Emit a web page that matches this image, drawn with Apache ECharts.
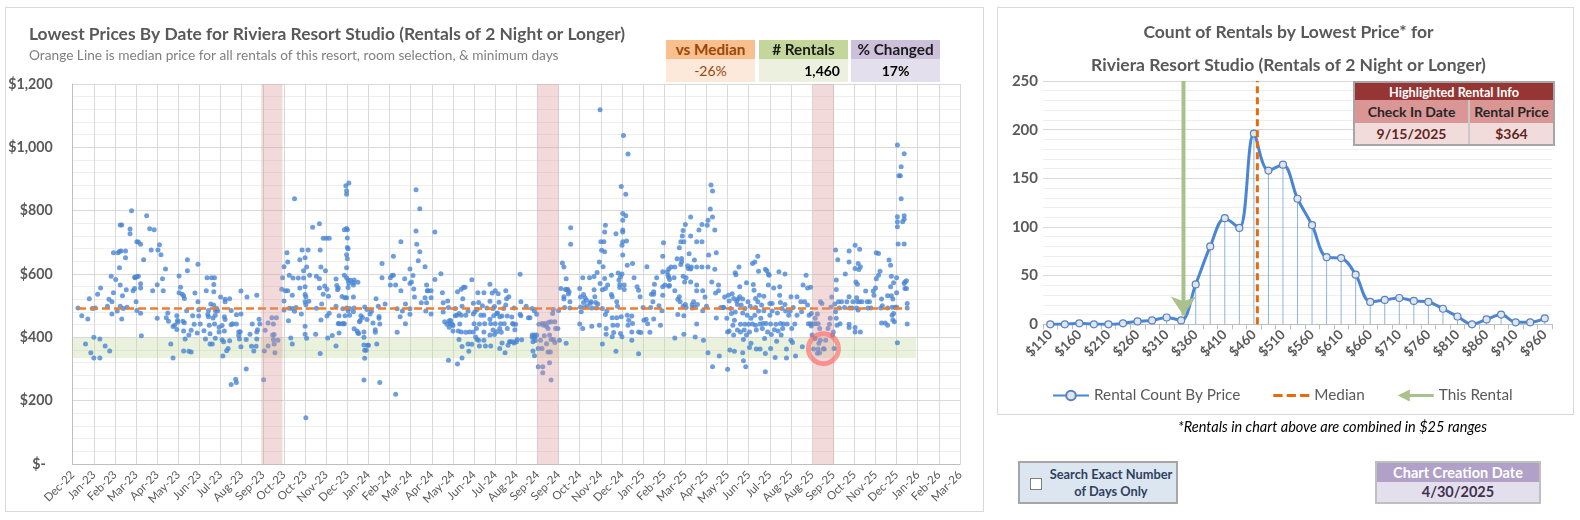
<!DOCTYPE html>
<html>
<head>
<meta charset="utf-8">
<script src="https://cdn.jsdelivr.net/npm/echarts@6/dist/echarts.min.js"></script>
<style>
  body { margin: 0; background: #fff; font-family: Lato, 'Open Sans', sans-serif; }
  .abs { position: absolute; box-sizing: border-box; }
  .panel { border: 1px solid #d9d9d9; }
  .info { text-align: center; font-weight: bold; }
  .info .h { height: 19px; line-height: 19px; font-size: 15.3px; }
  .info .v { height: 23px; line-height: 23px; font-size: 14px; }
  table.hl { border-collapse: collapse; font-weight: bold; text-align: center; }
  table.hl td { padding: 0; }
</style>
</head>
<body>
<div class="abs panel" style="left:5px;top:7px;width:979px;height:505px"></div>
<div class="abs panel" style="left:997px;top:7px;width:577px;height:408px"></div>
<div id="echarts_1" class="abs" style="left:0;top:0;width:985px;height:520px"></div>
<div id="echarts_2" class="abs" style="left:997px;top:0;width:583px;height:420px"></div>

<!-- 左上角三个指标框 -->
<div id="infoBoxes"></div>

<!-- 高亮租赁信息表 -->
<div class="abs" style="left:1353px;top:81px;width:202px;border:2px solid #a6a6a6">
  <table class="hl" style="width:100%">
    <tr><td colspan="2" style="background:#963634;color:#fff;height:17px;font-size:12.7px">Highlighted Rental Info</td></tr>
    <tr style="background:#da9694;color:#262626;font-size:14px;height:23px">
      <td style="width:113px;border-right:2px solid #c9c9c9">Check In Date</td><td>Rental Price</td></tr>
    <tr style="background:#f2dcdb;color:#632523;font-size:14px;height:21px">
      <td id="hlDate" style="border-right:2px solid #c9c9c9"></td><td id="hlPrice"></td></tr>
  </table>
</div>

<div class="abs" style="left:1178px;top:418px;font-size:14.5px;font-style:italic;color:#000">*Rentals in chart above are combined in $25 ranges</div>

<div class="abs" style="left:1018px;top:461px;width:160px;height:43px;background:#dce6f1;border:2px solid #a6a6a6">
  <div class="abs" style="left:10px;top:15px;width:12px;height:12px;background:#fff;border:1px solid #7f7f7f"></div>
  <div class="abs" style="left:26px;top:3px;width:130px;text-align:center;font-size:12.8px;font-weight:bold;color:#2f3f5f;line-height:17px">Search Exact Number<br>of Days Only</div>
</div>

<div class="abs" style="left:1375px;top:461px;width:166px;height:43px;border:2px solid #bfbfbf;text-align:center;font-weight:bold">
  <div style="background:#b1a0c7;color:#fff;height:19px;line-height:19px;font-size:14.5px">Chart Creation Date</div>
  <div id="createdOn" style="background:#e4dfec;color:#3f3151;height:20px;line-height:20px;font-size:14.5px"></div>
</div>

<script>
// ---------- 数据 ----------
// 每条租赁：[月, 日, 最低价格]
var rentals2023 = [
  [1,1,493],[1,6,468],[1,14,458],[1,16,522],[1,11,379],[1,18,351],[1,22,400],[1,22,335],[1,20,491],[1,24,493],[1,27,536],[1,30,395],[1,30,335],
  [1,31,556],[2,6,373],[2,9,498],[2,11,520],[2,12,357],[2,15,512],[2,15,474],[2,14,593],[2,17,667],[2,17,541],[2,20,583],[2,22,483],[2,23,667],[2,25,620],[2,25,671],[2,26,755],[2,28,755],[2,26,565],[2,26,498],[2,27,673],[2,28,458],
  [3,1,531],[3,2,491],[3,5,673],[3,5,651],[3,6,550],[3,7,495],[3,13,800],[3,11,742],[3,11,727],[3,15,547],[3,17,590],[3,18,588],[3,20,592],[3,22,593],[3,17,554],[3,19,512],[3,20,485],[3,20,702],[3,22,701],[3,25,694],[3,25,569],[3,25,556],[3,25,476],[3,26,405],[3,29,645],
  [4,2,784],[4,6,743],[4,12,740],[4,8,676],[4,10,547],[4,16,460],[4,16,566],[4,17,676],[4,19,692],[4,21,661],[4,23,585],[4,24,547],[4,27,616],[4,30,477],[4,28,462],
  [5,1,451],[5,4,379],[5,7,335],[5,7,434],[5,9,438],[5,12,425],[5,12,468],[5,13,453],[5,13,448],[5,15,594],[5,15,541],[5,17,558],[5,20,451],[5,19,536],[5,21,531],[5,22,523],[5,22,446],[5,23,395],[5,21,357],[5,21,420],[5,25,484],[5,26,610],[5,26,645],[5,28,407],[5,28,356],[5,31,354],[5,31,422],
  [6,2,468],[6,4,441],[6,5,540],[6,8,414],[6,9,631],[6,9,512],[6,10,487],[6,10,467],[6,12,442],[6,17,421],[6,19,395],[6,20,547],[6,21,588],[6,22,472],[6,23,485],[6,23,465],[6,24,438],[6,25,411],[6,25,379],[6,26,505],[6,27,588],[6,28,379],[6,29,461],[6,30,544],[6,30,567],[6,30,501],
  [7,1,588],[7,2,470],[7,2,485],[7,4,491],[7,5,483],[7,1,442],[7,2,397],[7,7,432],[7,7,417],[7,9,527],[7,11,437],[7,11,392],[7,13,386],[7,14,465],[7,15,456],[7,15,520],[7,15,512],[7,14,420],[7,12,341],[7,17,358],[7,19,365],[7,21,389],[7,21,522],[7,23,485],[7,23,440],[7,23,251],[7,25,443],[7,29,268],[7,30,257],[7,30,471],[7,30,442],
  [8,2,417],[8,2,406],[8,3,395],[8,4,418],[8,5,474],[8,5,546],[8,5,370],[8,12,300],[8,12,393],[8,13,527],[8,17,410],[8,19,372],[8,20,442],[8,22,357],[8,25,372],[8,26,533],[8,26,417],[8,27,424],[8,29,457],[8,30,442],[8,26,395],
  [9,5,357],[9,4,266],[9,6,422],[9,10,445],[9,10,373],[9,15,462],[9,21,462],[9,17,442],[9,16,407],[9,18,409],[9,17,393],[9,18,379],[9,19,351],[9,23,391],[9,28,552],[9,29,588],
  [10,1,623],[10,1,515],[10,1,486],[10,5,667],[10,6,638],[10,3,547],[10,6,547],[10,8,596],[10,8,492],[10,7,452],[10,10,398],[10,12,379],[10,12,533],[10,12,491],[10,13,587],[10,15,838],[10,15,482],[10,17,494],[10,20,587],[10,22,645],[10,22,556],[10,24,474],[10,25,676],[10,27,610],[10,27,587],[10,29,651],[10,29,560],[10,29,535],[10,30,528],[10,29,512],[10,30,503],[10,29,435],[10,29,410],[10,31,397],[10,31,622],[10,30,146],
  [11,2,676],[11,3,514],[11,4,596],[11,8,748],[11,12,410],[11,13,593],[11,13,492],[11,17,759],[11,18,676],[11,17,585],[11,17,556],[11,18,349],[11,19,622],[11,19,455],[11,20,505],[11,22,536],[11,22,713],[11,26,713],[11,30,713],[11,24,562],[11,25,610],[11,27,552],[11,27,467],[11,28,398],[11,29,530],[11,30,476],
  [12,4,406],[12,9,584],[12,9,498],[12,10,564],[12,11,550],[12,12,556],[12,13,414],[12,13,468],[12,13,443],[12,12,444],[12,9,373],[12,17,529],[12,17,443],[12,18,490],[12,19,443],[12,20,596],[12,20,443],[12,21,525],[12,22,879],[12,26,887],[12,23,863],[12,23,852],[12,20,740],[12,23,744],[12,24,740],[12,24,714],[12,24,684],[12,25,680],[12,23,661],[12,24,648],[12,23,620],[12,23,588],[12,25,580],[12,25,557],[12,26,571],[12,23,525],[12,23,493],[12,25,484],[12,27,470],[12,27,491],[12,21,468],[12,28,580]
];
var rentals2024 = [
  [1,1,565],[1,1,573],[1,2,581],[1,7,574],[1,1,527],[1,1,481],[1,2,493],[1,2,427],[1,6,420],[1,7,414],[1,8,412],[1,9,449],[1,10,453],[1,11,468],[1,13,463],[1,15,417],[1,15,400],[1,15,376],[1,16,359],[1,18,359],[1,16,334],[1,15,265],[1,16,496],[1,19,488],[1,19,456],[1,20,375],[1,21,375],[1,23,474],[1,25,482],[1,27,445],[1,30,424],[1,30,416],[1,31,522],
  [2,1,379],[2,3,498],[2,4,466],[2,4,460],[2,5,442],[2,5,257],[2,8,633],[2,8,588],[2,12,505],[2,19,565],[2,19,588],[2,21,595],[2,23,656],[2,23,596],[2,26,565],[2,26,220],[2,28,416],[2,28,490],
  [3,4,702],[3,4,547],[3,3,465],[3,6,483],[3,9,585],[3,10,505],[3,10,443],[3,16,616],[3,16,570],[3,16,490],[3,16,473],[3,18,575],[3,20,595],[3,21,553],[3,22,527],[3,24,866],[3,24,736],[3,25,694],[3,27,642],[3,29,806],[3,29,670],[3,31,509],
  [4,5,623],[4,5,525],[4,7,565],[4,9,547],[4,7,509],[4,6,483],[4,8,547],[4,13,547],[4,13,525],[4,13,474],[4,18,733],[4,18,583],[4,26,601],[4,28,541],[4,29,509],[4,29,480],
  [5,1,449],[5,5,515],[5,4,441],[5,7,452],[5,7,432],[5,8,444],[5,9,453],[5,11,441],[5,12,420],[5,12,437],[5,15,468],[5,15,491],[5,18,544],[5,17,470],[5,20,475],[5,20,393],[5,19,420],[5,18,316],[5,6,328],[5,6,494],[5,23,552],[5,26,558],[5,28,558],[5,25,522],[5,24,498],[5,23,470],[5,21,442],[5,23,417],[5,24,371],[5,24,335],[5,29,416],[5,29,470],
  [6,1,483],[6,1,379],[6,2,356],[6,3,417],[6,6,582],[6,6,378],[6,8,508],[6,8,417],[6,8,474],[6,9,443],[6,10,481],[6,11,401],[6,12,428],[6,13,393],[6,14,541],[6,13,488],[6,15,510],[6,15,391],[6,16,373],[6,16,442],[6,18,470],[6,20,500],[6,22,541],[6,22,470],[6,22,417],[6,23,443],[6,22,391],[6,24,373],[6,26,493],[6,30,568],[6,30,514],[6,30,457],[6,30,407],
  [7,1,443],[7,1,373],[7,3,540],[7,4,491],[7,4,423],[7,5,468],[7,6,497],[7,6,409],[7,7,547],[7,7,443],[7,9,475],[7,9,418],[7,11,538],[7,12,511],[7,10,477],[7,13,465],[7,13,428],[7,13,365],[7,14,443],[7,15,416],[7,16,382],[7,16,467],[7,18,491],[7,19,443],[7,20,351],[7,21,502],[7,21,547],[7,22,522],[7,23,467],[7,23,428],[7,24,375],[7,25,528],[7,26,386],[7,27,386],[7,29,464],[7,30,444],[7,30,386],[7,31,441],
  [8,1,493],[8,1,382],[8,2,424],[8,3,441],[8,4,386],[8,5,393],[8,9,599],[8,10,512],[8,9,473],[8,10,468],[8,11,392],[8,17,498],[8,20,462],[8,22,462],[8,25,491],[8,25,407],[8,25,400],[8,26,386],[8,27,400],[8,28,407],[8,29,390],[8,29,402],[8,26,357],[8,28,342],[8,28,483],[8,31,473],[8,31,407],
  [9,2,307],[9,8,307],[9,8,288],[9,19,265],[9,17,320],[9,3,441],[9,7,444],[9,9,438],[9,11,444],[9,13,435],[9,16,448],[9,19,449],[9,21,475],[9,22,488],[9,5,391],[9,2,365],[9,7,365],[9,10,405],[9,13,380],[9,15,354],[9,18,354],[9,17,407],[9,19,393],[9,22,393],[9,24,384],[9,15,428],[9,24,449],[9,25,428],[9,28,428],[9,29,485],[9,30,391],
  [10,2,554],[10,4,635],[10,6,622],[10,6,528],[10,6,521],[10,7,494],[10,8,551],[10,9,585],[10,10,551],[10,11,551],[10,12,537],[10,13,544],[10,14,512],[10,14,493],[10,15,694],[10,15,746],[10,9,381],[10,27,554],[10,28,527],[10,28,496],[10,29,481],[10,27,442],[10,31,588],[10,31,428],
  [11,1,535],[11,1,510],[11,2,494],[11,3,525],[11,5,517],[11,6,500],[11,9,588],[11,10,508],[11,11,512],[11,12,493],[11,12,435],[11,15,592],[11,15,550],[11,16,528],[11,17,510],[11,18,493],[11,19,605],[11,20,505],[11,22,438],[11,22,638],[11,23,570],[11,23,1119],[11,24,702],[11,25,675],[11,26,550],[11,26,491],[11,26,379],[11,27,623],[11,29,733],[11,28,702],[11,29,670],[11,29,586],[11,30,754],[11,30,554],[11,30,472],
  [12,1,428],[12,1,410],[12,2,483],[12,3,565],[12,8,596],[12,8,535],[12,9,528],[12,9,462],[12,9,402],[12,10,438],[12,11,415],[12,14,727],[12,14,356],[12,15,512],[12,15,462],[12,16,438],[12,16,498],[12,17,603],[12,18,581],[12,19,557],[12,19,567],[12,20,591],[12,20,412],[12,21,465],[12,22,402],[12,21,876],[12,23,791],[12,23,770],[12,23,733],[12,23,739],[12,22,691],[12,23,702],[12,24,1037],[12,27,852],[12,27,784],[12,28,704],[12,29,628],[12,30,979],[12,23,660],[12,22,600],[12,29,470],[12,30,438],[12,25,565],[12,25,551],[12,31,454]
];
var rentals2025 = [
  [1,5,633],[1,7,588],[1,4,467],[1,5,444],[1,4,417],[1,4,391],[1,11,560],[1,13,549],[1,15,528],[1,13,417],[1,16,415],[1,13,348],[1,19,494],[1,20,454],[1,23,457],[1,25,443],[1,24,623],[1,28,416],[1,29,494],[1,30,536],
  [2,1,512],[2,2,536],[2,3,568],[2,2,544],[2,2,458],[2,6,588],[2,9,500],[2,11,438],[2,13,484],[2,14,656],[2,14,607],[2,14,560],[2,14,533],[2,15,699],[2,17,565],[2,20,607],[2,21,596],[2,22,616],[2,22,590],[2,23,583],[2,23,564],[2,25,622],[2,22,561],
  [3,2,622],[3,1,588],[3,2,547],[3,2,398],[3,5,648],[3,6,520],[3,6,472],[3,8,683],[3,8,528],[3,9,512],[3,10,702],[3,10,630],[3,11,639],[3,11,649],[3,12,720],[3,13,593],[3,13,737],[3,13,498],[3,14,702],[3,14,468],[3,14,410],[3,15,575],[3,16,504],[3,16,756],[3,17,494],[3,17,588],[3,19,626],[3,20,617],[3,21,664],[3,23,616],[3,23,575],[3,23,780],[3,23,720],[3,24,622],[3,25,493],[3,25,504],[3,27,512],[3,28,644],[3,28,495],[3,29,401],[3,31,622],[3,31,702],[3,31,565],[3,31,547],[3,31,442],
  [4,1,504],[4,3,739],[4,7,756],[4,7,702],[4,7,622],[4,8,547],[4,8,484],[4,9,391],[4,11,527],[4,13,498],[4,14,754],[4,15,770],[4,16,660],[4,15,622],[4,15,351],[4,18,805],[4,19,881],[4,21,862],[4,21,780],[4,20,575],[4,21,307],[4,24,739],[4,24,615],[4,25,540],[4,26,667],[4,26,461],[4,29,547],[4,29,565],[4,30,341],
  [5,2,494],[5,5,494],[5,6,494],[5,7,527],[5,10,460],[5,11,417],[5,12,533],[5,13,515],[5,14,360],[5,11,299],[5,13,420],[5,15,491],[5,16,475],[5,17,538],[5,18,438],[5,19,523],[5,19,407],[5,20,454],[5,20,356],[5,21,480],[5,21,604],[5,22,598],[5,23,515],[5,24,423],[5,24,504],[5,25,521],[5,26,622],[5,27,528],[5,27,560],[5,28,417],[5,28,441],[5,29,502],[5,31,477],[5,31,521],[5,31,351],
  [6,1,326],[6,1,393],[6,2,423],[6,3,441],[6,3,491],[6,4,307],[6,5,572],[6,5,407],[6,6,470],[6,7,512],[6,8,441],[6,9,417],[6,9,368],[6,10,498],[6,11,460],[6,11,381],[6,13,442],[6,13,633],[6,14,567],[6,15,549],[6,16,638],[6,16,470],[6,17,523],[6,17,438],[6,17,494],[6,18,423],[6,18,363],[6,20,512],[6,20,656],[6,21,609],[6,21,483],[6,22,533],[6,23,363],[6,23,442],[6,24,460],[6,25,502],[6,26,428],[6,27,444],[6,28,484],[6,28,530],[6,29,396],[6,30,349],[6,30,291],[6,30,615],
  [7,1,444],[7,2,610],[7,3,417],[7,4,565],[7,4,600],[7,5,596],[7,6,507],[7,6,470],[7,7,442],[7,7,365],[7,8,409],[7,9,483],[7,9,507],[7,11,556],[7,12,424],[7,13,336],[7,14,441],[7,15,388],[7,16,477],[7,17,420],[7,18,607],[7,19,560],[7,19,533],[7,20,510],[7,20,444],[7,21,407],[7,22,491],[7,23,428],[7,24,442],[7,26,600],[7,26,504],[7,27,483],[7,28,363],[7,28,335],[7,29,442],[7,31,470],
  [8,2,483],[8,3,391],[8,3,528],[8,4,428],[8,5,384],[8,6,494],[8,8,442],[8,9,341],[8,11,528],[8,11,470],[8,16,512],[8,17,481],[8,19,565],[8,18,370],[8,21,512],[8,23,596],[8,25,556],[8,25,502],[8,26,443],[8,27,470],[8,29,443],[8,29,558],[8,30,475],[8,30,436],[8,31,407],
  [9,2,443],[9,4,460],[9,5,443],[9,7,474],[9,8,443],[9,10,428],[9,11,512],[9,13,507],[9,11,391],[9,4,396],[9,9,381],[9,15,364],[9,16,363],[9,8,363],[9,2,363],[9,7,350],[9,10,351],[9,18,391],[9,21,428],[9,23,441],[9,24,460],[9,25,496],[9,26,527],[9,27,407],[9,29,365],[9,28,417],[9,30,505],
  [10,1,481],[10,1,676],[10,2,581],[10,2,551],[10,2,460],[10,3,438],[10,4,645],[10,5,512],[10,6,493],[10,7,443],[10,9,512],[10,13,494],[10,14,600],[10,16,512],[10,19,638],[10,19,673],[10,19,528],[10,20,493],[10,19,441],[10,19,431],[10,23,493],[10,24,512],[10,27,691],[10,27,617],[10,28,575],[10,29,525],[10,29,493],[10,30,512],[10,30,568],[10,31,633],[10,31,486],[10,27,417],[10,27,431],
  [11,1,614],[11,2,678],[11,2,512],[11,3,623],[11,5,512],[11,3,417],[11,10,546],[11,12,512],[11,13,493],[11,15,512],[11,17,493],[11,20,546],[11,21,533],[11,23,556],[11,24,585],[11,24,667],[11,27,665],[11,27,596],[11,29,609],[11,30,493],
  [12,1,521],[12,2,500],[12,1,445],[12,6,445],[12,9,438],[12,9,493],[12,9,531],[12,11,644],[12,13,628],[12,13,560],[12,14,593],[12,14,531],[12,15,495],[12,15,470],[12,16,455],[12,16,521],[12,17,572],[12,17,475],[12,18,449],[12,19,495],[12,21,588],[12,21,541],[12,21,495],[12,22,1007],[12,22,765],[12,22,781],[12,22,749],[12,23,695],[12,22,383],[12,24,910],[12,26,910],[12,27,939],[12,27,838],[12,29,765],[12,31,773],[12,31,784],[12,31,980],[12,31,695],[12,31,570]
];
var rentals2026 = [
  [1,1,554],[1,1,575],[1,3,579],[1,3,554],[1,4,507],[1,4,493],[1,4,442]
];

var medianPrice = 491;
var highlightDate = [2025, 9, 15];
var highlightPrice = 364;
var priceBandLow = 335, priceBandHigh = 398, priceBandEnd = [2026, 1, 16];
// 九月的粉色区域
var septemberBands = [
  [[2023, 9, 1], [2023, 9, 29]],
  [[2024, 9, 1], [2024, 9, 29]],
  [[2025, 9, 1], [2025, 9, 29]]
];

var infoLabels = ['vs Median', '# Rentals', '% Changed'];
var infoValues = ['-26%', '1,460', '17%'];
var creationDate = '4/30/2025';

// 右图：按 $25 区间统计
var priceBins = ['$110','$135','$160','$185','$210','$235','$260','$285','$310','$335',
  '$360','$385','$410','$435','$460','$485','$510','$535','$560','$585',
  '$610','$635','$660','$685','$710','$735','$760','$785','$810','$835',
  '$860','$885','$910','$935','$960'];
var rentalCounts = [0,0,1,0,0,1,3,4,7,4,
  41,80,109,99,196,158,164,129,102,69,
  68,51,23,25,27,24,23,16,8,0,
  5,10,2,2,6];
var countTicks = [0, 250, 50];

// ---------- 工具 ----------
var FONT = "Lato, 'Open Sans', sans-serif";
var AXIS_START = Date.UTC(2022, 11, 25);
var DAY = 86400000;
var MONTHS = ['Jan','Feb','Mar','Apr','May','Jun','Jul','Aug','Sep','Oct','Nov','Dec'];

function toDay(y, m, d) { return (Date.UTC(y, m - 1, d) - AXIS_START) / DAY; }

function yearPoints(year, list) {
  return list.map(function (r) { return [toDay(year, r[0], r[1]), r[2]]; });
}

var points = [].concat(
  yearPoints(2023, rentals2023), yearPoints(2024, rentals2024),
  yearPoints(2025, rentals2025), yearPoints(2026, rentals2026));

var firstDay = Math.min.apply(null, points.map(function (p) { return p[0]; }));
var lastDay = Math.max.apply(null, points.map(function (p) { return p[0]; }));

// 矩形区域 [x0, x1, yLow, yHigh]
function bandRect(params, api) {
  var a = api.coord([api.value(0), api.value(3)]);
  var b = api.coord([api.value(1), api.value(2)]);
  return { type: 'rect', shape: { x: a[0], y: a[1], width: b[0] - a[0], height: b[1] - a[1] },
           style: { fill: api.visual('color') } };
}

// ---------- 指标框 ----------
(function () {
  var colors = [
    { h: '#f9bf8f', v: '#fde9d9', hc: '#984807', vc: '#984807', align: 'center' },
    { h: '#c4d79b', v: '#ebf1de', hc: '#1a1a1a', vc: '#000', align: 'right' },
    { h: '#ccc0da', v: '#e4dfec', hc: '#1a1a1a', vc: '#000', align: 'center' }
  ];
  var lefts = [666, 759, 851];
  var html = '';
  for (var i = 0; i < 3; i++) {
    var c = colors[i];
    html += '<div class="abs info" style="left:' + lefts[i] + 'px;top:40px;width:89px">' +
      '<div class="h" style="background:' + c.h + ';color:' + c.hc + '">' + infoLabels[i] + '</div>' +
      '<div class="v" style="background:' + c.v + ';color:' + c.vc + ';text-align:' + c.align +
      ';padding:0 8px;font-weight:' + (i === 0 ? 'normal' : 'bold') + '">' + infoValues[i] + '</div></div>';
  }
  document.getElementById('infoBoxes').innerHTML = html;
  document.getElementById('hlDate').textContent = highlightDate[1] + '/' + highlightDate[2] + '/' + highlightDate[0];
  document.getElementById('hlPrice').textContent = '$' + highlightPrice;
  document.getElementById('createdOn').textContent = creationDate;
})();

// ---------- 左图：按日期的最低价格 ----------
var chart1 = echarts.init(document.getElementById('echarts_1'));
chart1.setOption({
  animation: false,
  textStyle: { fontFamily: FONT },
  title: {
    text: 'Lowest Prices By Date for Riviera Resort Studio (Rentals of 2 Night or Longer)',
    subtext: 'Orange Line is median price for all rentals of this resort, room selection, & minimum days',
    left: 24, top: 21, itemGap: 6,
    textStyle: { fontSize: 17.4, fontWeight: 'bold', color: '#595959', fontFamily: FONT },
    subtextStyle: { fontSize: 13.7, color: '#7f7f7f', fontFamily: FONT }
  },
  grid: { left: 72.7, right: 25, top: 84, bottom: 56 },
  xAxis: {
    type: 'value', min: 0, max: 1176, interval: 28,
    axisLine: { show: true, lineStyle: { color: '#bfbfbf' } },
    axisTick: { show: false },
    splitLine: { show: true, lineStyle: { color: '#d9d9d9' } },
    axisLabel: {
      rotate: 45, margin: 9, fontSize: 11.5, color: '#595959', showMaxLabel: true,
      formatter: function (v) {
        var d = new Date(AXIS_START + v * DAY);
        return MONTHS[d.getUTCMonth()] + '-' + String(d.getUTCFullYear() % 100);
      }
    }
  },
  yAxis: {
    type: 'value', min: 0, max: 1200, interval: 200,
    axisLine: { show: true, lineStyle: { color: '#bfbfbf' } },
    axisTick: { show: false },
    splitLine: { lineStyle: { color: '#d9d9d9' } },
    minorTick: { show: false, splitNumber: 5 },
    minorSplitLine: { show: true, lineStyle: { color: '#eeeeee' } },
    axisLabel: {
      margin: 20, fontSize: 14.2, fontWeight: 'bold', color: '#595959',
      formatter: function (v) { return v === 0 ? '$-  ' : '$' + v.toLocaleString('en-US'); }
    }
  },
  series: [
    {
      name: 'Price Range', type: 'custom', z: 1, silent: true,
      renderItem: bandRect, encode: { x: [0, 1], y: [2, 3] },
      itemStyle: { color: 'rgba(196,215,155,0.35)' },
      data: [[0, toDay(priceBandEnd[0], priceBandEnd[1], priceBandEnd[2]), priceBandLow, priceBandHigh]]
    },
    {
      name: 'Lowest Price', type: 'scatter', z: 2, symbolSize: 5,
      itemStyle: { color: '#4a86d4' },
      data: points
    },
    {
      name: 'Median', type: 'line', z: 3, symbol: 'none',
      lineStyle: { color: '#ed7d31', width: 2.6, type: [8, 4] },
      data: [[firstDay, medianPrice], [lastDay, medianPrice]]
    },
    {
      name: 'September', type: 'custom', z: 4, silent: true,
      renderItem: bandRect, encode: { x: [0, 1], y: [2, 3] },
      itemStyle: { color: 'rgba(220,150,150,0.35)' },
      data: septemberBands.map(function (b) {
        return [toDay(b[0][0], b[0][1], b[0][2]), toDay(b[1][0], b[1][1], b[1][2]), 0, 1200];
      })
    },
    {
      name: 'This Rental', type: 'scatter', z: 5, symbolSize: 30,
      itemStyle: { color: 'rgba(0,0,0,0)', borderColor: 'rgba(255,95,95,0.75)', borderWidth: 5 },
      data: [[toDay(highlightDate[0], highlightDate[1], highlightDate[2]), highlightPrice]]
    }
  ]
});

// ---------- 右图：按价格的数量 ----------
var chart2 = echarts.init(document.getElementById('echarts_2'));
var binMin = 122.5, binMax = 122.5 + priceBins.length * 25;   // 区间中心在价格轴上的位置
chart2.setOption({
  animation: false,
  textStyle: { fontFamily: FONT },
  title: {
    text: 'Count of Rentals by Lowest Price* for\nRiviera Resort Studio (Rentals of 2 Night or Longer)',
    left: 'center', top: 11,
    textStyle: { fontSize: 17.5, fontWeight: 'bold', color: '#595959', lineHeight: 33, fontFamily: FONT }
  },
  legend: {
    left: 50, top: 383, itemGap: 33, itemWidth: 36, itemHeight: 12,
    textStyle: { fontSize: 15.3, color: '#595959', fontFamily: FONT },
    data: [
      { name: 'Rental Count By Price' },
      { name: 'Median', icon: 'path://M0,4.5 h9 v3 h-9 Z M13,4.5 h9 v3 h-9 Z M26,4.5 h9 v3 h-9 Z' },
      { name: 'This Rental', icon: 'path://M0,6 L12,0 L12,4.5 L36,4.5 L36,7.5 L12,7.5 L12,12 Z' }
    ]
  },
  grid: { left: 46, right: 28, top: 81, bottom: 95.7 },
  xAxis: [
    {
      type: 'category', data: priceBins, boundaryGap: true,
      axisLine: { lineStyle: { color: '#bfbfbf' } },
      axisTick: { show: true, interval: 0, length: 5, lineStyle: { color: '#bfbfbf' } },
      axisLabel: { interval: 1, rotate: 45, margin: 8, fontSize: 13.5, fontWeight: 'bold', color: '#595959' }
    },
    { type: 'value', min: binMin, max: binMax, show: false }
  ],
  yAxis: {
    type: 'value', min: countTicks[0], max: countTicks[1], interval: countTicks[2],
    axisLine: { show: false }, axisTick: { show: false },
    splitLine: { lineStyle: { color: '#d9d9d9' } },
    minorTick: { show: false, splitNumber: 5 },
    minorSplitLine: { show: true, lineStyle: { color: '#eeeeee' } },
    axisLabel: { margin: 5, fontSize: 15, fontWeight: 'bold', color: '#595959' }
  },
  series: [
    {
      name: 'drop', type: 'bar', barWidth: 1, silent: true, z: 1,
      itemStyle: { color: '#8db4e2' },
      data: rentalCounts
    },
    {
      name: 'Rental Count By Price', type: 'line', smooth: 0.35, z: 3,
      symbol: 'circle', symbolSize: 7,
      lineStyle: { color: '#4a86d4', width: 3 },
      itemStyle: { color: '#dde6f2', borderColor: '#5b82b8', borderWidth: 1.2 },
      data: rentalCounts
    },
    {
      name: 'Median', type: 'line', xAxisIndex: 1, symbol: 'none', z: 4,
      lineStyle: { color: '#e46c0a', width: 3, type: [7, 4] },
      itemStyle: { color: '#e46c0a' },
      data: [[medianPrice, countTicks[0]], [medianPrice, countTicks[1]]]
    },
    {
      name: 'This Rental', type: 'line', xAxisIndex: 1, symbol: 'none', showSymbol: true, z: 5,
      lineStyle: { color: '#a9c18c', width: 4 },
      itemStyle: { color: '#a9c18c' },
      data: [
        { value: [highlightPrice, countTicks[1]] },
        { value: [highlightPrice, 9], symbol: 'arrow', symbolSize: [19, 19], symbolRotate: 180 }
      ]
    }
  ]
});
</script>
</body>
</html>
